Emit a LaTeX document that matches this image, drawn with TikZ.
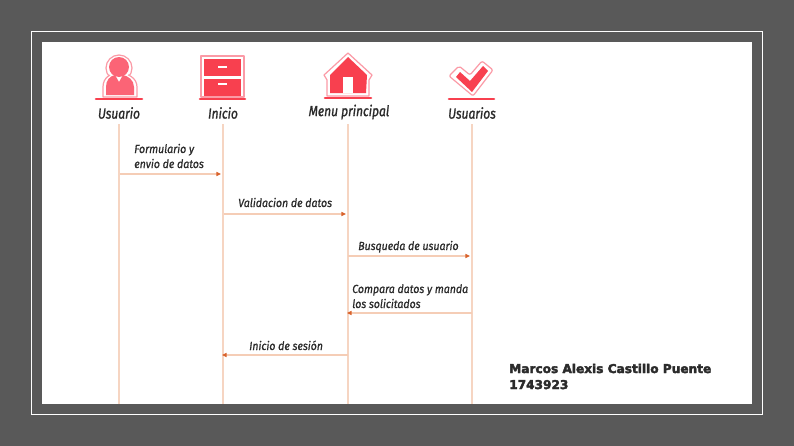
\documentclass[tikz,border=0pt]{standalone}
\usepackage{fontspec}
\setmainfont{Fira Sans}
\newfontfamily\namefont{DejaVu Sans}
\usetikzlibrary{arrows.meta}
\definecolor{bgdark}{HTML}{595959}
\definecolor{life}{HTML}{F6D5C2}
\definecolor{msg}{HTML}{F5CDB6}
\definecolor{tip}{HTML}{D9622B}
\definecolor{iconred}{HTML}{F8404F}
\definecolor{iconpink}{HTML}{FB6476}
\definecolor{iconpale}{HTML}{FB9AA6}
\definecolor{ink}{HTML}{2B2B2B}
\tikzset{
  actor/.style={font=\fontsize{11}{14}\selectfont\itshape\addfontfeatures{FakeStretch=0.82,FakeBold=1.2}, text=ink, inner sep=0pt, anchor=center},
  msgtext/.style={font=\fontsize{8.8}{11.25}\selectfont\itshape\addfontfeatures{FakeStretch=0.9,FakeBold=0.9}, text=ink, inner sep=0pt, align=left, anchor=base west},
  lifeline/.style={draw=life, line width=1.1pt},
  message/.style={draw=msg, line width=0.9pt, -{Triangle[length=3.4pt,width=3pt,fill=tip,color=tip]}},
  iconfill/.style={fill=iconred, draw=none},
  iconline/.style={draw=iconpale, line width=0.9pt, fill=white, line join=round},
  base/.style={draw=iconred, line width=1.9pt, line cap=round}
}
\begin{document}
\begin{tikzpicture}[x=0.75pt,y=-0.75pt]
\useasboundingbox (0,0) rectangle (794,446);
\fill[bgdark] (0,0) rectangle (794,446);
\draw[white, line width=0.6pt] (31,31) rectangle (762,414);
\fill[white] (42,42) rectangle (752,404);

% user icon
\draw[iconline] (119,68) circle[radius=13];
\draw[iconline] (103,97) -- (103,87) .. controls (103,78) and (110,73) .. (119,73) .. controls (128,73) and (137,78) .. (137,87) -- (137,97) -- cycle;
\fill[white] (119,68) circle[radius=11.5];
\fill[iconpink] (119,67) circle[radius=10];
\path[iconfill, fill=iconpink] (106,95) -- (106,87) .. controls (106,80) and (110,76) .. (115,75) -- (119,82) -- (123,75) .. controls (128,76) and (134,80) .. (134,87) -- (134,95) -- cycle;
\draw[base] (96,99) -- (142,99);

% inicio icon
\draw[iconline] (201,56) rectangle (244,97);
\path[iconfill] (204,59) rectangle (241,76);
\path[iconfill] (204,79) rectangle (241,96);
\draw[white, line width=1pt] (218,67) -- (227,67);
\draw[white, line width=1pt] (218,84) -- (227,84);
\draw[base] (200,99) -- (245,99);

% house icon
\draw[iconline] (348,53) -- (372,75) -- (369,80) -- (369,96) -- (327,96) -- (327,80) -- (324,75) -- cycle;
\path[iconfill] (348,57) -- (367,75) -- (366,93) -- (330,93) -- (330,75) -- cycle;
\fill[white] (343,77) rectangle (353,93);
\draw[base] (325,98) -- (371,98);

% check icon
\draw[iconline, rounded corners=1.5pt] (449,76) -- (459,66) -- (470,75) -- (482,61) -- (493,70) -- (473,96) -- cycle;
\path[iconfill] (456,77) -- (460,72) -- (470,81) -- (483,66) -- (488,71) -- (472,92) -- cycle;
\draw[base] (449,99) -- (494,99);

% actors
\node[actor] (a1) at (119,113) {Usuario};
\node[actor] (a2) at (223,113) {Inicio};
\node[actor] (a3) at (349,112) {Menu principal};
\node[actor] (a4) at (472,113) {Usuarios};

% lifeline ends
\coordinate (e1) at (119,404);
\coordinate (e2) at (223,404);
\coordinate (e3) at (348,404);
\coordinate (e4) at (472,404);
\coordinate (s1) at (119,124);
\coordinate (s2) at (223,124);
\coordinate (s3) at (348,124);
\coordinate (s4) at (472,124);
\draw[lifeline] (s1) -- (e1);
\draw[lifeline] (s2) -- (e2);
\draw[lifeline] (s3) -- (e3);
\draw[lifeline] (s4) -- (e4);

% messages
\coordinate (m1a) at (120,174); \coordinate (m1b) at (221,174);
\coordinate (m2a) at (224,214); \coordinate (m2b) at (346,214);
\coordinate (m3a) at (348,256); \coordinate (m3b) at (470,256);
\coordinate (m4a) at (472,313); \coordinate (m4b) at (347,313);
\coordinate (m5a) at (348,355); \coordinate (m5b) at (222,355);
\draw[message] (m1a) -- (m1b);
\draw[message] (m2a) -- (m2b);
\draw[message] (m3a) -- (m3b);
\draw[message] (m4a) -- (m4b);
\draw[message] (m5a) -- (m5b);

\node[msgtext] (t1) at (134,168) {Formulario y\\envio de datos};
\node[msgtext] (t2) at (238,207) {Validacion de datos};
\node[msgtext] (t3) at (358,250) {Busqueda de usuario};
\node[msgtext] (t4) at (352,308) {Compara datos y manda\\los solicitados};
\node[msgtext] (t5) at (249,350) {Inicio de sesión};

\node[font=\namefont\fontsize{9.1}{12}\selectfont\bfseries\addfontfeatures{FakeBold=3}, text=ink, inner sep=0pt, align=left, anchor=base west] (n) at (509,389) {Marcos Alexis Castillo Puente\\1743923};
\end{tikzpicture}
\end{document}
